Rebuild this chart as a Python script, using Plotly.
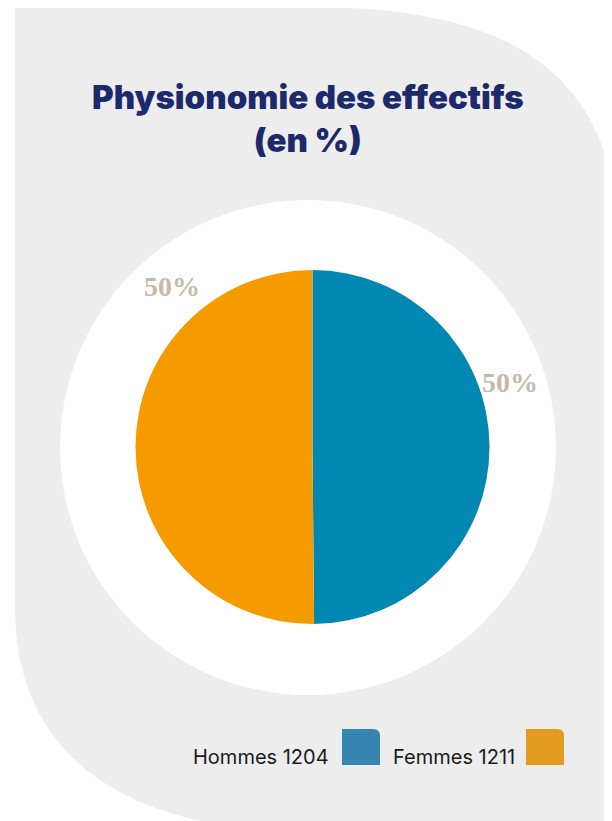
import plotly.graph_objects as go

# data
groups = ["Hommes", "Femmes"]
effectifs = [1204, 1211]
pie_colors = ["#0088B3", "#F59B00"]
legend_colors = ["#3585B0", "#E39B1F"]

# the html page adds an 8px body margin, so the figure is drawn
# in screen coords starting at OFF
OFF = 8
W, H = 612, 821
total = sum(effectifs)
pcts = [round(v / total * 100) for v in effectifs]

fig = go.Figure()

# pie placed in screen pixel space (center 312.5, 447, radius 177)
cx, cy, r = 312.5, 447, 177
fig.add_trace(go.Pie(
    labels=groups,
    values=effectifs,
    marker=dict(colors=pie_colors, line=dict(width=0)),
    sort=False,
    direction="clockwise",
    rotation=0,
    textinfo="none",
    hoverinfo="label+value+percent",
    showlegend=False,
    domain=dict(x=[(cx - r - OFF) / W, (cx + r - OFF) / W],
                y=[1 - (cy + r - OFF) / H, 1 - (cy - r - OFF) / H]),
))

shapes = []
# grey card with curved corners
bg_path = (
    "M 15,7 L 310,7 C 527,7 620,83 620,260 "
    "L 640,840 L 315,840 L 315,832 C 120,832 15,753 15,607 Z"
)
shapes.append(dict(type="path", path=bg_path, xref="x", yref="y",
                   fillcolor="#EDEDED", line=dict(width=0), layer="below"))
# white disc behind the pie
shapes.append(dict(type="circle", xref="x", yref="y", x0=60, x1=556, y0=200, y1=695,
                   fillcolor="white", line=dict(width=0), layer="below"))

annotations = []
annotations.append(dict(
    x=308, y=118, xref="x", yref="y",
    text="Physionomie des effectifs<br>(en %)",
    showarrow=False, align="center",
    font=dict(family="Inter", size=33, color="#1C2A6C", weight=900),
))

# percentage labels
label_pos = [(510, 382), (172, 286)]
for (lx, ly), p in zip(label_pos, pcts):
    annotations.append(dict(
        x=lx, y=ly, xref="x", yref="y", text=f"{p}%", showarrow=False,
        font=dict(family="Liberation Serif", size=28, color="#C5B9A8", weight=700),
    ))

# custom legend
legend_x = [(331, 342), (517, 526)]
sw, top, bot, rad = 38, 729, 765, 7
for (tx, sx), g, n, c in zip(legend_x, groups, effectifs, legend_colors):
    annotations.append(dict(
        x=tx, y=757, xref="x", yref="y", text=f"{g} {n}", showarrow=False,
        xanchor="right", font=dict(family="Inter", size=20, color="#1A1A1A"),
    ))
    path = (f"M {sx},{bot} L {sx},{top} L {sx + sw - rad},{top} "
            f"Q {sx + sw},{top} {sx + sw},{top + rad} L {sx + sw},{bot} Z")
    shapes.append(dict(type="path", path=path, xref="x", yref="y",
                       fillcolor=c, line=dict(width=0)))

fig.update_layout(
    width=W, height=H,
    margin=dict(l=0, r=0, t=0, b=0),
    paper_bgcolor="white", plot_bgcolor="rgba(0,0,0,0)",
    xaxis=dict(range=[OFF, OFF + W], visible=False, fixedrange=True),
    yaxis=dict(range=[OFF + H, OFF], visible=False, fixedrange=True),
    shapes=shapes,
    annotations=annotations,
)

fig.write_html("out.html")
